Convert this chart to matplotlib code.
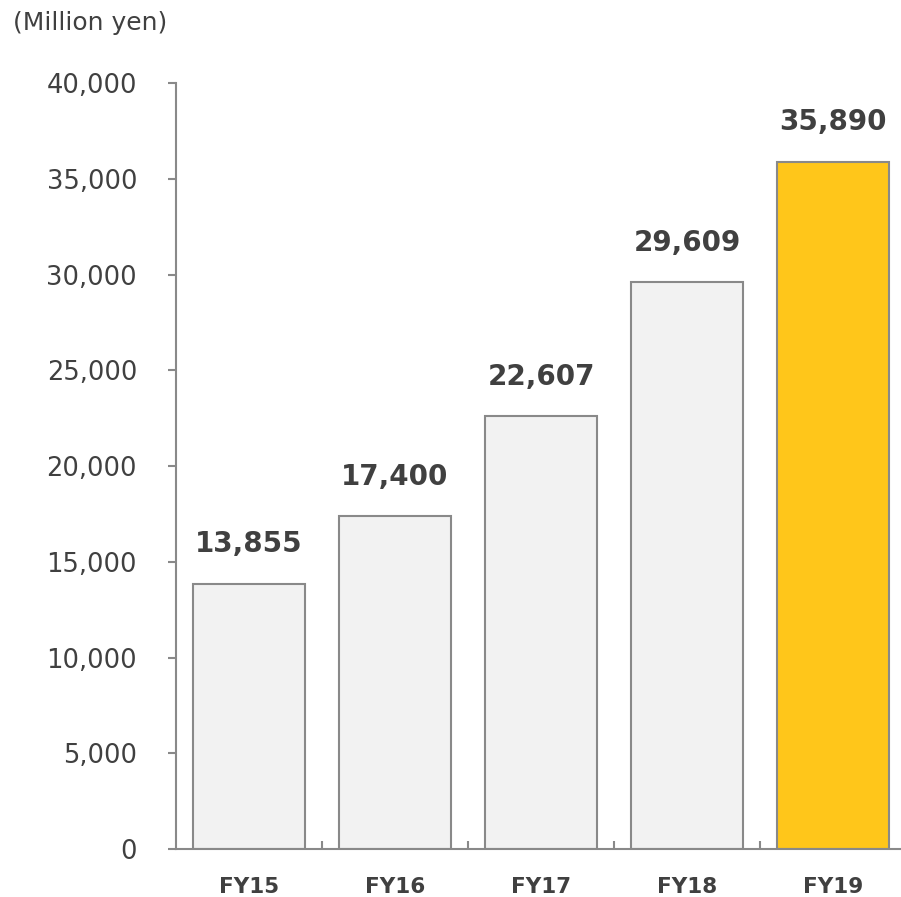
import matplotlib.pyplot as plt
import numpy as np

categories = ["FY15", "FY16", "FY17", "FY18", "FY19"]
values = [13855, 17400, 22607, 29609, 35890]
bar_colors = ["#F2F2F2", "#F2F2F2", "#F2F2F2", "#F2F2F2", "#FFC61A"]
y_ticks = [0, 5000, 10000, 15000, 20000, 25000, 30000, 35000, 40000]

text_color = "#404040"
line_color = "#898989"

plt.rcParams["font.family"] = ["DejaVu Sans"]

fig = plt.figure(figsize=(9.01, 8.97), dpi=100)
ax = fig.add_axes([176 / 901, 48 / 897, 730 / 901, 766 / 897])

x = np.arange(len(categories))
bars = ax.bar(x, values, width=0.767, color=bar_colors,
              edgecolor=line_color, linewidth=1.5, zorder=2)

for rect, v in zip(bars, values):
    ax.annotate(f"{v:,}", (rect.get_x() + rect.get_width() / 2, v),
                xytext=(0, 22.5), textcoords="offset points",
                ha="center", va="baseline", fontsize=20,
                fontweight="bold", color=text_color)

ax.set_xlim(-0.5, len(categories) - 0.5)
ax.set_ylim(0, 40000)
ax.set_yticks(y_ticks)
ax.set_yticklabels([f"{t:,}" for t in y_ticks])
ax.set_xticks(x)
ax.set_xticklabels(categories)
ax.set_xticks(np.arange(0.5, len(categories) - 1, 1.0), minor=True)

for side in ["top", "right"]:
    ax.spines[side].set_visible(False)
for side in ["left", "bottom"]:
    ax.spines[side].set_color(line_color)
    ax.spines[side].set_linewidth(1.5)

ax.tick_params(axis="y", direction="out", length=6, width=1.5,
               color=line_color, pad=22, labelsize=18.5,
               labelcolor=text_color)
ax.tick_params(axis="x", which="major", length=0, pad=20,
               labelsize=15.5, labelcolor=text_color)
ax.tick_params(axis="x", which="minor", direction="in", length=6,
               width=1.5, color=line_color)
for lbl in ax.get_xticklabels():
    lbl.set_fontweight("bold")

fig.text(13 / 901, 1 - 23 / 897, "(Million yen)", fontsize=18,
         color=text_color, ha="left", va="center")

fig.savefig("out.png", dpi=100)
